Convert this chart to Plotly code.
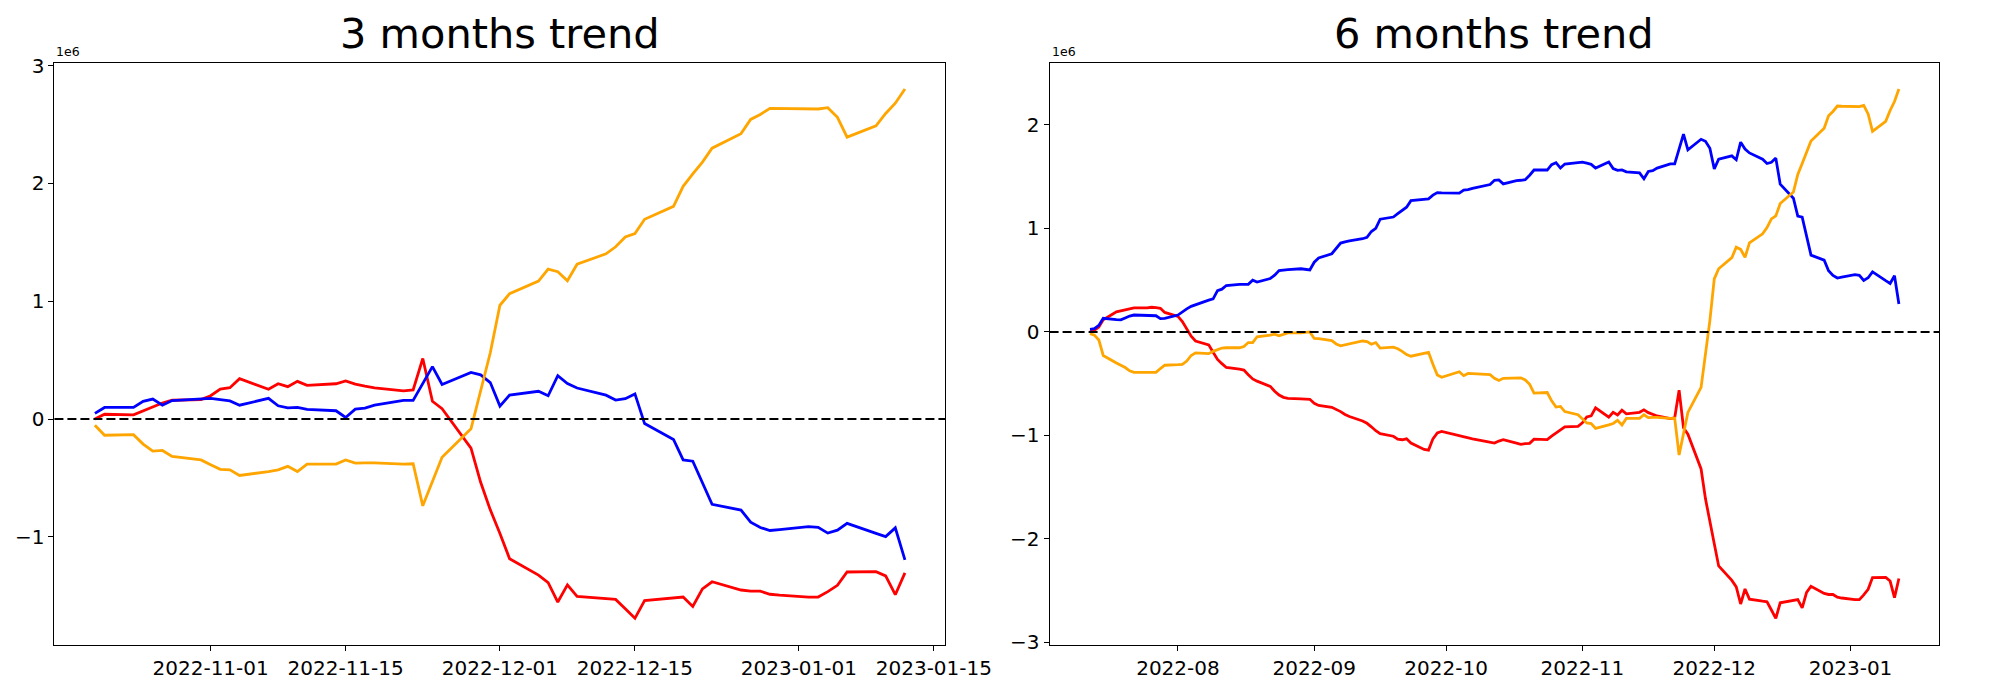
import numpy as np
import pandas as pd
import plotly.graph_objects as go

# ---------------- data (values in units of 1e6) ----------------
dates_3m_start, dates_3m_end = "2022-10-20", "2023-01-12"
dates_6m_start, dates_6m_end = "2022-07-12", "2023-01-12"

blue_3m = [0.049, 0.099, 0.099, 0.151, 0.17, 0.118, 0.157, 0.176,
           0.176, 0.165, 0.154, 0.118,
           0.176, 0.113, 0.096, 0.10, 0.082,
           0.071, 0.014, 0.085, 0.093, 0.118,
           0.159, 0.159, 0.302, 0.445, 0.294,
           0.396, 0.376, 0.31, 0.11, 0.203,
           0.236, 0.198, 0.368, 0.302, 0.264,
           0.203, 0.162, 0.173, 0.214, -0.038,
           -0.173, -0.346, -0.357, -0.541, -0.723,
           -0.772, -0.874, -0.92, -0.945, -0.937,
           -0.912, -0.918, -0.967, -0.942, -0.885,
           -0.97, -0.997, -0.923, -1.195]
red_3m = [0.0, 0.041, 0.036, 0.07, 0.10, 0.137, 0.16, 0.165,
          0.198, 0.255, 0.266, 0.343,
          0.253, 0.30, 0.275, 0.32, 0.286,
          0.30, 0.324, 0.297, 0.28, 0.265,
          0.239, 0.247, 0.514, 0.151, 0.088,
          -0.247, -0.536, -0.77, -0.97, -1.184,
          -1.324, -1.387, -1.552, -1.407, -1.505,
          -1.525, -1.53, -1.61, -1.69, -1.54,
          -1.52, -1.51, -1.59, -1.44, -1.38,
          -1.45, -1.46, -1.46, -1.486, -1.494,
          -1.51, -1.51, -1.464, -1.41, -1.297,
          -1.294, -1.33, -1.49, -1.305]
orange_3m = [-0.052, -0.137, -0.132, -0.212, -0.272, -0.266, -0.316, -0.346,
             -0.387, -0.426, -0.431, -0.478,
             -0.445, -0.431, -0.401, -0.445, -0.382,
             -0.382, -0.346, -0.374, -0.371, -0.371,
             -0.382, -0.379, -0.736, -0.536, -0.324,
             -0.082, 0.25, 0.563, 0.966, 1.064,
             1.171, 1.273, 1.251, 1.174, 1.314,
             1.402, 1.462, 1.545, 1.575, 1.695,
             1.805, 1.975, 2.08, 2.181, 2.299,
             2.422, 2.543, 2.584, 2.636, 2.634,
             2.628, 2.631, 2.642, 2.56, 2.392,
             2.488, 2.593, 2.68, 2.801]

blue_6m = [0.025, 0.031, 0.063, 0.131,
           0.119, 0.116, 0.135, 0.153, 0.163,
           0.156, 0.156, 0.156, 0.128, 0.131,
           0.163, 0.197, 0.222, 0.247, 0.263,
           0.307, 0.319, 0.398, 0.413, 0.448,
           0.46, 0.463, 0.46, 0.50, 0.482,
           0.516, 0.548, 0.592, 0.598, 0.601,
           0.61, 0.604, 0.598, 0.673, 0.714,
           0.755, 0.81, 0.858, 0.87, 0.88,
           0.90, 0.914, 0.97, 1.00, 1.089,
           1.11, 1.142, 1.174, 1.205, 1.268,
           1.283, 1.286, 1.321, 1.346, 1.343,
           1.34, 1.34, 1.371, 1.374, 1.387,
           1.415, 1.424, 1.465, 1.468, 1.43,
           1.462, 1.465, 1.47,
           1.514, 1.564, 1.564, 1.616, 1.635, 1.583, 1.622, 1.641,
           1.641, 1.63, 1.619, 1.583,
           1.641, 1.578, 1.561, 1.565, 1.547,
           1.536, 1.479, 1.55, 1.558, 1.583,
           1.624, 1.624, 1.767, 1.91, 1.759,
           1.861, 1.841, 1.775, 1.575, 1.668,
           1.701, 1.663, 1.833, 1.767, 1.729,
           1.668, 1.627, 1.638, 1.679, 1.427,
           1.292, 1.119, 1.108, 0.924, 0.742,
           0.693, 0.591, 0.545, 0.52, 0.528,
           0.553, 0.547, 0.498, 0.523, 0.58,
           0.495, 0.468, 0.542, 0.27]
red_6m = [0.0, 0.016, 0.047, 0.116,
          0.194, 0.203, 0.213, 0.228, 0.232,
          0.232, 0.238, 0.235, 0.228, 0.188,
          0.15, 0.10, 0.031, -0.041, -0.088,
          -0.125, -0.197, -0.266, -0.307, -0.344,
          -0.36, -0.369, -0.413, -0.454, -0.476,
          -0.526, -0.573, -0.61, -0.632, -0.642,
          -0.648, -0.648, -0.651, -0.689, -0.71,
          -0.729, -0.748, -0.77, -0.798, -0.817,
          -0.861, -0.883, -0.917, -0.955, -0.983,
          -1.008, -1.036, -1.042, -1.033, -1.074,
          -1.136, -1.142, -1.033, -0.976, -0.961,
          -0.992, -1.005, -1.008, -1.023, -1.033,
          -1.058, -1.067, -1.074, -1.055, -1.042,
          -1.074, -1.086, -1.08,
          -1.077, -1.036, -1.041, -1.007, -0.977, -0.94, -0.917, -0.912,
          -0.879, -0.822, -0.811, -0.734,
          -0.824, -0.777, -0.802, -0.757, -0.791,
          -0.777, -0.753, -0.78, -0.797, -0.812,
          -0.838, -0.83, -0.563, -0.926, -0.989,
          -1.324, -1.613, -1.847, -2.047, -2.261,
          -2.401, -2.464, -2.629, -2.484, -2.582,
          -2.602, -2.607, -2.687, -2.767, -2.617,
          -2.597, -2.587, -2.667, -2.517, -2.457,
          -2.527, -2.537, -2.537, -2.563, -2.571,
          -2.587, -2.587, -2.541, -2.487, -2.374,
          -2.371, -2.407, -2.567, -2.382]
orange_6m = [-0.016, -0.031, -0.078, -0.228,
             -0.30, -0.322, -0.344, -0.376, -0.391,
             -0.391, -0.391, -0.391, -0.354, -0.322,
             -0.316, -0.313, -0.282, -0.228, -0.203,
             -0.21, -0.188, -0.172, -0.156, -0.153,
             -0.153, -0.141, -0.103, -0.103, -0.047,
             -0.031, -0.022, -0.038, -0.025, -0.009,
             -0.009, -0.003, 0.0, -0.063, -0.066,
             -0.085, -0.116, -0.135, -0.125, -0.116,
             -0.088, -0.094, -0.119, -0.103, -0.156,
             -0.147, -0.163, -0.188, -0.219, -0.235,
             -0.203, -0.197, -0.313, -0.416, -0.438,
             -0.397, -0.385, -0.423, -0.401, -0.404,
             -0.41, -0.413, -0.448, -0.47, -0.448,
             -0.444, -0.444, -0.465,
             -0.506, -0.591, -0.586, -0.666, -0.726, -0.72, -0.77, -0.80,
             -0.841, -0.88, -0.885, -0.932,
             -0.899, -0.885, -0.855, -0.899, -0.836,
             -0.836, -0.80, -0.828, -0.825, -0.825,
             -0.836, -0.833, -1.19, -0.99, -0.778,
             -0.536, -0.204, 0.109, 0.512, 0.61,
             0.717, 0.819, 0.797, 0.72, 0.86,
             0.948, 1.008, 1.091, 1.121, 1.241,
             1.351, 1.521, 1.626, 1.727, 1.845,
             1.968, 2.089, 2.13, 2.182, 2.18,
             2.174, 2.177, 2.188, 2.106, 1.938,
             2.034, 2.139, 2.226, 2.347]

xticks_3m = ["2022-11-01", "2022-11-15", "2022-12-01", "2022-12-15", "2023-01-01", "2023-01-15"]
xticklabels_3m = ["2022-11-01", "2022-11-15", "2022-12-01", "2022-12-15", "2023-01-01", "2023-01-15"]
xticks_6m = ["2022-08-01", "2022-09-01", "2022-10-01", "2022-11-01", "2022-12-01", "2023-01-01"]
xticklabels_6m = ["2022-08", "2022-09", "2022-10", "2022-11", "2022-12", "2023-01"]
titles = ["3 months trend", "6 months trend"]

# ---------------- figure ----------------
dates_3m = pd.bdate_range(dates_3m_start, dates_3m_end)
dates_6m = pd.bdate_range(dates_6m_start, dates_6m_end)
assert len(dates_3m) == len(blue_3m) == len(red_3m) == len(orange_3m)
assert len(dates_6m) == len(blue_6m) == len(red_6m) == len(orange_6m)

FONT = "DejaVu Sans"
W, H = 2000, 700
LW = 2.8

fig = go.Figure()
panels = [
    (dates_3m, red_3m, blue_3m, orange_3m, "x", "y"),
    (dates_6m, red_6m, blue_6m, orange_6m, "x2", "y2"),
]
for d, r, b, o, xa, ya in panels:
    for vals, col in ((r, "red"), (b, "blue"), (o, "orange")):
        fig.add_trace(go.Scatter(x=d, y=vals, mode="lines", xaxis=xa, yaxis=ya,
                                 line=dict(color=col, width=LW), showlegend=False,
                                 hoverinfo="skip"))


def xrange(d):
    span = d[-1] - d[0]
    return [d[0] - span * 0.05, d[-1] + span * 0.05]


def yrange(*series):
    allv = np.concatenate([np.asarray(s) for s in series])
    lo, hi = allv.min(), allv.max()
    m = (hi - lo) * 0.05
    return [lo - m, hi + m]


axis_common = dict(showline=True, linecolor="black", linewidth=1.1, mirror=True,
                   ticks="outside", ticklen=5, tickwidth=1.1, tickcolor="black",
                   showgrid=False, zeroline=False,
                   tickfont=dict(family=FONT, size=20, color="black"))

dom1 = [55.7 / W, 967.7 / W]
dom2 = [1074.3 / W, 1985 / W]
ydom = [1 - 653.5 / H, 1 - 55 / H]

fig.update_layout(
    width=W, height=H,
    margin=dict(l=0, r=0, t=0, b=0),
    paper_bgcolor="white", plot_bgcolor="white",
    xaxis=dict(domain=dom1, anchor="y", range=xrange(dates_3m), tickmode="array",
               tickvals=xticks_3m, ticktext=xticklabels_3m, **axis_common),
    yaxis=dict(domain=ydom, anchor="x", range=yrange(red_3m, blue_3m, orange_3m),
               dtick=1, tick0=0, **axis_common),
    xaxis2=dict(domain=dom2, anchor="y2", range=xrange(dates_6m), tickmode="array",
                tickvals=xticks_6m, ticktext=xticklabels_6m, **axis_common),
    yaxis2=dict(domain=ydom, anchor="x2", range=yrange(red_6m, blue_6m, orange_6m),
                dtick=1, tick0=0, **axis_common),
)

for xr, yr in (("x", "y"), ("x2", "y2")):
    fig.add_shape(type="line", xref=f"{xr} domain", yref=yr, x0=0, x1=1, y0=0, y1=0,
                  line=dict(color="black", width=2, dash="9px,4px"), layer="above")

for dom, t in zip((dom1, dom2), titles):
    fig.add_annotation(text=t, xref="paper", yref="paper", x=(dom[0] + dom[1]) / 2,
                       y=1 - 25 / H, xanchor="center", yanchor="middle", showarrow=False,
                       font=dict(family=FONT, size=41.5, color="black"))
    fig.add_annotation(text="1e6", xref="paper", yref="paper", x=dom[0], y=1 - 53 / H,
                       xanchor="left", yanchor="bottom", showarrow=False,
                       font=dict(family=FONT, size=12.5, color="black"))

fig.write_html(
    "out.html",
    config={"displayModeBar": False},
    post_script="document.body.style.margin='0';document.body.style.overflow='hidden';",
)
